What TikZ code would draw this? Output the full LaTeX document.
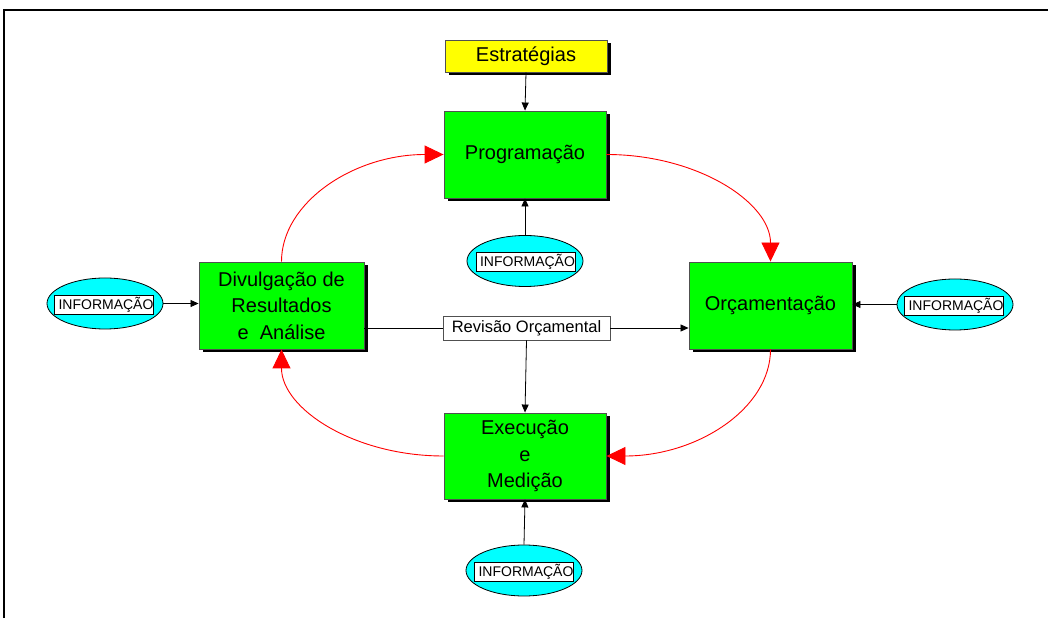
\documentclass[tikz,border=0pt]{standalone}
\usepackage{fontspec}
\setmainfont{Liberation Sans}
\usetikzlibrary{arrows.meta,shadows,shapes.geometric,calc}
\definecolor{boxgreen}{RGB}{0,255,0}
\definecolor{boxyellow}{RGB}{255,255,0}
\definecolor{infocyan}{RGB}{0,255,255}
\definecolor{edgegray}{RGB}{80,80,80}
\tikzset{
  stage/.style={draw=edgegray, line width=0.9pt, fill=boxgreen, minimum width=162pt,
    minimum height=87pt, inner sep=0pt, align=center,
    font=\fontsize{20}{26.5}\selectfont,
    general shadow={fill=black, shadow xshift=3.5pt, shadow yshift=-3.5pt}},
  strat/.style={draw=edgegray, line width=0.9pt, fill=boxyellow, minimum width=162pt,
    minimum height=32pt, inner sep=0pt, font=\fontsize{20}{24}\selectfont,
    general shadow={fill=black, shadow xshift=3.5pt, shadow yshift=-3.5pt}},
  revbox/.style={draw=edgegray, line width=0.9pt, fill=white, minimum width=167pt,
    minimum height=24pt, inner sep=0pt, font=\fontsize{16.5}{19}\selectfont},
  infoell/.style={ellipse, draw=black, line width=0.8pt, fill=infocyan,
    minimum width=116pt, minimum height=51pt, inner sep=0pt},
  infotag/.style={draw=black, line width=0.7pt, fill=white, minimum width=98pt,
    minimum height=19pt, inner sep=0pt, font=\fontsize{14}{16}\selectfont},
  feed/.style={draw=black, line width=0.8pt, -{Triangle[length=8pt,width=7pt]}},
  cycle/.style={draw=red, line width=0.9pt, -{Triangle[length=19pt,width=18pt]}},
}
\newcommand{\infotext}{\hspace*{4pt}INFORMAÇÃO}
\begin{document}
\begin{tikzpicture}[x=1pt,y=1pt]
  \useasboundingbox (0,0) rectangle (1048,618);
  % outer frame
  \draw[line width=2.2pt] (4,0) -- (4,608) -- (1049,608);

  % main stages
  \node[strat] (estr) at (526,562) {Estratégias};
  \node[stage] (prog) at (525,463.5) {Programação};
  \node[stage, minimum width=165pt] (div) at (281.5,312.5)
    {Divulgação de\\Resultados\\e~~Análise};
  \node[stage, minimum width=163pt] (orc) at (770.5,312.5) {Orçamentação};
  \node[stage, minimum height=86pt] (exe) at (525,162) {Execução\\e\\Medição};
  \node[revbox] (rev) at (526.5,290) {Revisão Orçamental};

  % information sources
  \node[infoell] (infP) at (525,357) {};
  \node[infotag] (infPt) at (525.5,356) {\infotext};
  \node[infoell] (infD) at (105,314.5) {};
  \node[infotag] (infDt) at (104,313.5) {\infotext};
  \node[infoell] (infO) at (955,313.5) {};
  \node[infotag] (infOt) at (954,312.5) {\infotext};
  \node[infoell] (infE) at (524,47.5) {};
  \node[infotag] (infEt) at (524,46.5) {\infotext};

  % black connectors
  \draw[feed] (estr.south) -- (prog.north);
  \draw[feed] (infP.north) -- (prog.south);
  \draw[feed] (infE.north) -- (exe.south);
  \draw[feed] (infD.east) -- (infD.east -| div.west);
  \draw[feed] (infO.west) -- (infO.west -| orc.east);
  \draw[line width=0.8pt] (div.east |- rev.west) -- (rev.west);
  \draw[feed] (rev.east) -- (rev.east -| orc.west);
  \draw[feed] (rev.south) -- (exe.north);

  % red management cycle
  \draw[cycle] (prog.east) .. controls ($(prog.east)+(91,0)$) and ($(orc.north)+(0,59)$) .. (orc.north);
  \draw[cycle] (orc.south) .. controls ($(orc.south)+(0,-59)$) and ($(exe.east)+(91,0)$) .. (exe.east);
  \draw[cycle] (exe.west) .. controls ($(exe.west)+(-90,0)$) and ($(div.south)+(0,-59)$) .. (div.south);
  \draw[cycle] (div.north) .. controls ($(div.north)+(0,59)$) and ($(prog.west)+(-90,0)$) .. (prog.west);
\end{tikzpicture}
\end{document}
